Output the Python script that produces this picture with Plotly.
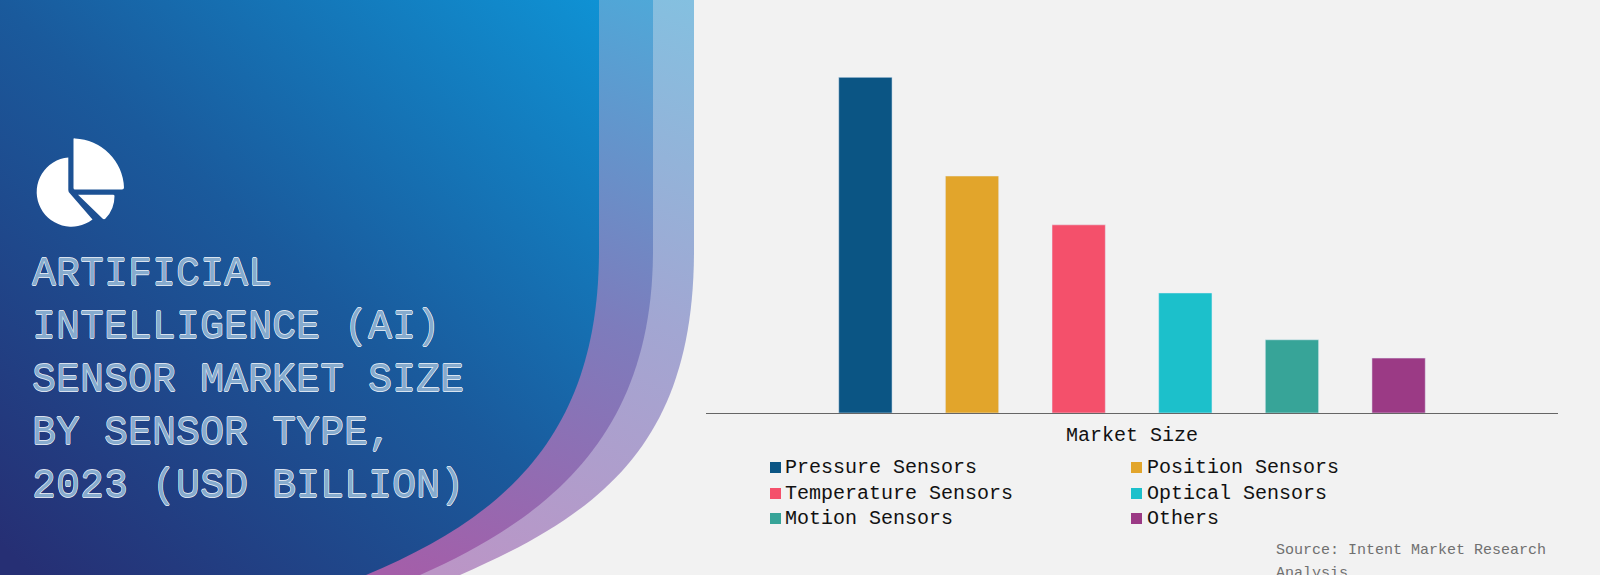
import base64
import plotly.graph_objects as go

categories = ["Market Size"]
sensor_types = ["Pressure Sensors", "Position Sensors", "Temperature Sensors",
                "Optical Sensors", "Motion Sensors", "Others"]
market_size = [3.30, 2.33, 1.85, 1.18, 0.72, 0.54]
bar_colors = ["#0b5584", "#e2a52b", "#f4506b", "#1cc0cb", "#37a498", "#9b3a85"]
title_lines = ["ARTIFICIAL", "INTELLIGENCE (AI)", "SENSOR MARKET SIZE", "BY SENSOR TYPE,", "2023 (USD BILLION)"]
source_lines = ["Source: Intent Market Research", "Analysis"]

W, H = 1600, 575

svg = f'''<svg xmlns="http://www.w3.org/2000/svg" width="{W}" height="{H}" viewBox="0 0 {W} {H}">
<defs>
<linearGradient id="a" gradientUnits="userSpaceOnUse" x1="60" y1="600" x2="600" y2="0">
<stop offset="0" stop-color="#262f74"/><stop offset="0.5" stop-color="#1a5a9c"/><stop offset="1" stop-color="#0f92d4"/></linearGradient>
<linearGradient id="b" gradientUnits="userSpaceOnUse" x1="400" y1="575" x2="650" y2="0">
<stop offset="0" stop-color="#a45ea9"/><stop offset="0.5" stop-color="#7d7cbc"/><stop offset="1" stop-color="#4fa8d8"/></linearGradient>
<linearGradient id="c" gradientUnits="userSpaceOnUse" x1="450" y1="575" x2="690" y2="0">
<stop offset="0" stop-color="#bb95c6"/><stop offset="0.5" stop-color="#a2a6d2"/><stop offset="1" stop-color="#84c0e0"/></linearGradient>
</defs>
<rect width="{W}" height="{H}" fill="#f2f2f2"/>
<path d="M0,0 H694 V250 C694,440 605,512 460,575 H0 Z" fill="url(#c)"/>
<path d="M0,0 H653 V250 C653,430 555,515 420,575 H0 Z" fill="url(#b)"/>
<path d="M0,0 H599 V250 C599,430 510,515 366,575 H0 Z" fill="url(#a)"/>
<g fill="#ffffff">
<path d="M73.5,139 Q73.5,138 75,138.5 A51,51 0 0 1 124,187.5 Q124,189.5 122,189.5 H75 Q73.5,189.5 73.5,188 Z"/>
<path d="M68.3,157.4 V190 Q68.3,192 70,193.5 L92.5,219.5 A34.7,34.7 0 1 1 68.3,157.4 Z"/>
<path d="M78,194.7 H113 Q114.5,194.7 114.5,196 A32,32 0 0 1 105.5,218.5 Q104,220 102.5,218.5 Z"/>
</g>
</svg>'''
bg = "data:image/svg+xml;base64," + base64.b64encode(svg.encode()).decode()

fig = go.Figure()
for name, val, col in zip(sensor_types, market_size, bar_colors):
    fig.add_trace(go.Bar(name=name, x=categories, y=[val], marker_color=col, showlegend=False))

TEXT_FONT = "Liberation Mono"
anns = []
OUT = ",".join(f"{dx}px {dy}px 0.4px rgba(244,248,252,0.9)" for dx, dy in [(0.6, 0), (-0.6, 0), (0, 0.6), (0, -0.6)])
title_y = [274, 327, 380, 433, 486]
for line, y in zip(title_lines, title_y):
    anns.append(dict(text=line, xref="paper", yref="paper", x=30 / W, y=1 - y / H, xanchor="left", yanchor="middle",
                     showarrow=False,
                     font=dict(family=TEXT_FONT, size=40, color="#86abce", shadow=OUT)))

shapes = []
legend_x = [770, 1131]
legend_y = [467, 493, 518]
for i, (name, col) in enumerate(zip(sensor_types, bar_colors)):
    lx, ly = legend_x[i % 2], legend_y[i // 2]
    shapes.append(dict(type="rect", xref="paper", yref="paper", x0=lx / W, x1=(lx + 11) / W,
                       y0=1 - (ly + 6) / H, y1=1 - (ly - 5) / H, fillcolor=col, line_width=0))
    anns.append(dict(text=name, xref="paper", yref="paper", x=(lx + 13 + (1 if i % 2 else 0)) / W, y=1 - ly / H, xanchor="left",
                     yanchor="middle", showarrow=False,
                     font=dict(family=TEXT_FONT, size=20, color="#111111")))
for line, y in zip(source_lines, [550, 573]):
    anns.append(dict(text=line, xref="paper", yref="paper", x=1274 / W, y=1 - y / H, xanchor="left", yanchor="middle",
                     showarrow=False, font=dict(family=TEXT_FONT, size=15, color="#707070")))

fig.update_layout(
    width=W, height=H, margin=dict(l=0, r=0, t=0, b=0),
    paper_bgcolor="#f2f2f2", plot_bgcolor="rgba(0,0,0,0)",
    barmode="group", bargap=0.249, bargroupgap=0.5, showlegend=False,
    images=[dict(source=bg, xref="paper", yref="paper", x=0, y=1, sizex=1, sizey=1,
                 xanchor="left", yanchor="top", sizing="stretch", layer="below")],
    xaxis=dict(domain=[706 / W, 1558 / W], showline=True, linecolor="#666666", linewidth=1, ticks="outside",
               ticklen=3, tickcolor="rgba(0,0,0,0)",
               tickfont=dict(family=TEXT_FONT, size=20, color="#111111"), anchor="y"),
    yaxis=dict(domain=[1 - 413 / H, 1 - 40 / H], range=[0, 3.3 * 374.5 / 337], visible=False, fixedrange=True),
    annotations=anns, shapes=shapes, hovermode=False,
)
fig.write_html("out.html", config=dict(displayModeBar=False),
               post_script="document.body.style.margin='0';document.body.style.overflow='hidden';")
